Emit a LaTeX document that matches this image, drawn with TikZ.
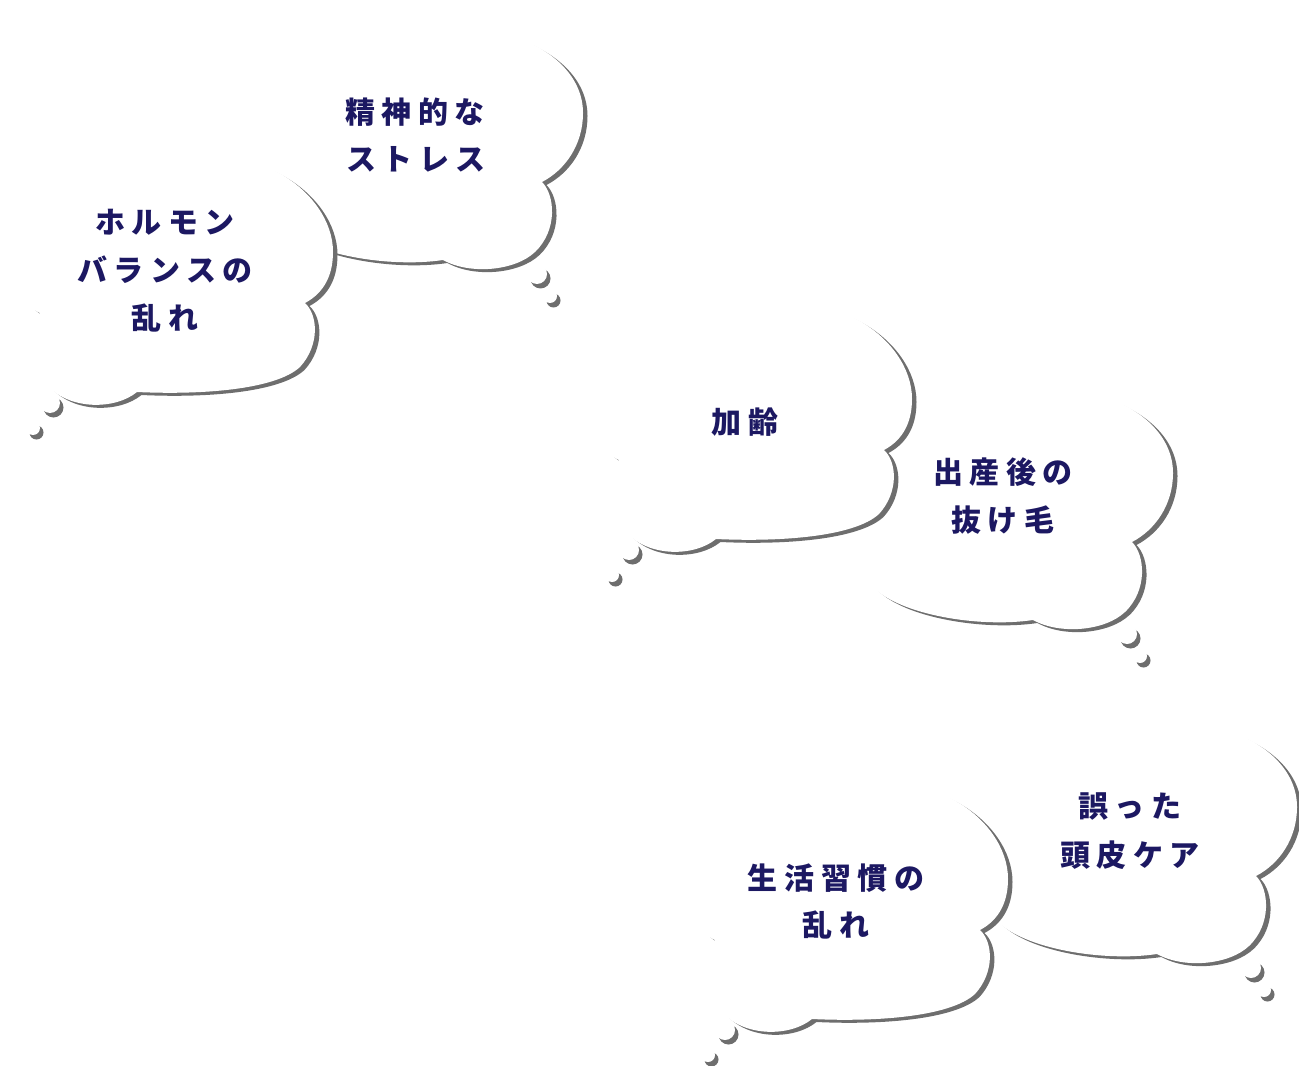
\documentclass[tikz,border=0pt]{standalone}
\usepackage{fontspec}
\newfontfamily\jp{Noto Sans CJK JP}[LetterSpace=22]
\definecolor{shadowgray}{RGB}{110,110,110}
\definecolor{inknavy}{RGB}{28,24,98}
\def\pathA{(305,303) .. controls (318,315) and (320,345) .. (300,367) .. controls (275,390) and (200,395) .. (137,392) .. controls (115,410) and (70,410) .. (48,386) .. controls (35,372) and (30,335) .. (40,313) .. controls (10,300) and (0,240) .. (45,225) .. controls (50,175) and (150,150) .. (190,172) .. controls (245,135) and (333,190) .. (333,252) .. controls (333,280) and (320,295) .. (305,303) -- cycle}
\def\pathB{(542,182) .. controls (555,195) and (558,230) .. (535,252) .. controls (515,271) and (470,275) .. (443,260) .. controls (390,268) and (310,255) .. (283,227) .. controls (262,205) and (262,160) .. (290,140) .. controls (265,80) and (360,20) .. (430,45) .. controls (475,10) and (583,45) .. (583,113) .. controls (583,145) and (565,170) .. (542,182) -- cycle}
\newcommand\mycloudA[2]{\begin{scope}[shift={(#1,#2)}]
  \fill[shadowgray,shift={(4.5,3)}] \pathA;
  \fill[white] \pathA;
  \fill[shadowgray] (53.5,407.5) circle[radius=10];
  \fill[white] (50,403) circle[radius=10];
  \fill[shadowgray] (36.5,432.5) circle[radius=7];
  \fill[white] (33,428) circle[radius=7];
\end{scope}}
\newcommand\mycloudB[2]{\begin{scope}[shift={(#1,#2)}]
  \fill[shadowgray,shift={(4.5,3)}] \pathB;
  \fill[white] \pathB;
  \fill[shadowgray] (540.5,278.5) circle[radius=10];
  \fill[white] (537,274) circle[radius=10];
  \fill[shadowgray] (553.5,300.5) circle[radius=7];
  \fill[white] (550,296) circle[radius=7];
\end{scope}}
\begin{document}
\begin{tikzpicture}[x=0.75pt,y=-0.75pt,
  lbl/.style={text=inknavy,font=\jp\bfseries\fontsize{22.5pt}{27pt}\selectfont,inner sep=0pt}]
\useasboundingbox (0,0) rectangle (1299,1066);
\fill[white] (0,0) rectangle (1299,1066);
% back clouds (tail to the right)
\mycloudB{0}{0}
\mycloudB{590}{360}
\mycloudB{714}{694}
% front clouds (tail to the left)
\mycloudA{0}{0}
\mycloudA{579}{147}
\mycloudA{675}{627}
% texts
\node[lbl] (t1a) at (165,222) {ホルモン};
\node[lbl] (t1b) at (165,270) {バランスの};
\node[lbl] (t1c) at (165,318) {乱れ};
\node[lbl] (t2a) at (415,112) {精神的な};
\node[lbl] (t2b) at (416,159) {ストレス};
\node[lbl] (t3) at (745,422) {加齢};
\node[lbl] (t4a) at (1003,472) {出産後の};
\node[lbl] (t4b) at (1003,520) {抜け毛};
\node[lbl] (t5a) at (836,878) {生活習慣の};
\node[lbl] (t5b) at (836,925) {乱れ};
\node[lbl] (t6a) at (1130,806) {誤った};
\node[lbl] (t6b) at (1130,855) {頭皮ケア};
\end{tikzpicture}
\end{document}
